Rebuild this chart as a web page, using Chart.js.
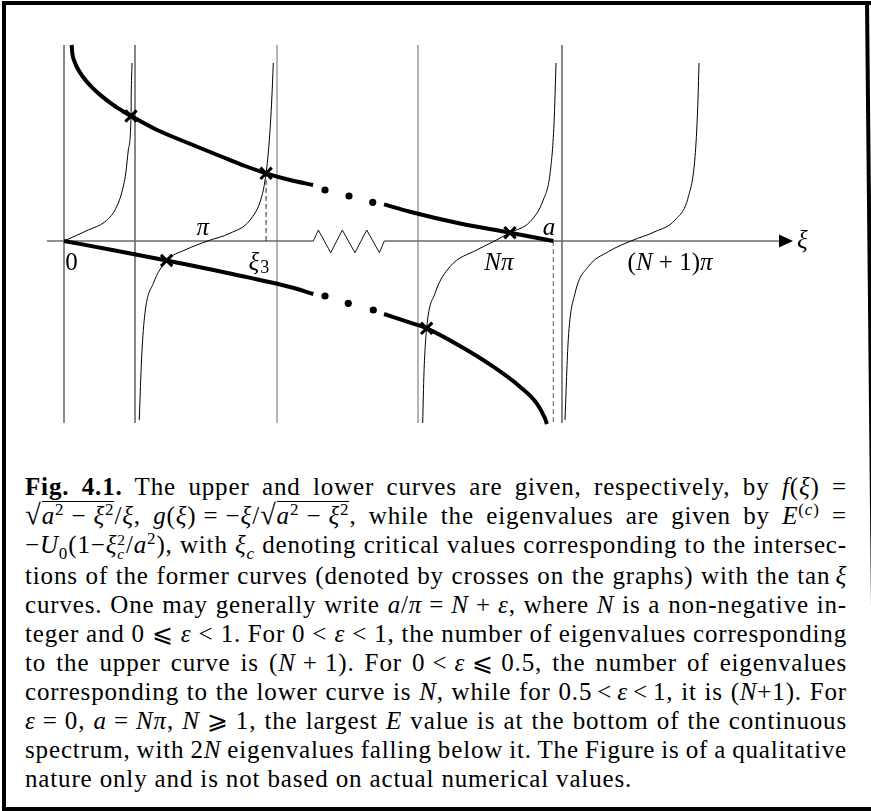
<!DOCTYPE html>
<html>
<head>
<meta charset="utf-8">
<script src="https://cdn.jsdelivr.net/npm/chart.js@4/dist/chart.umd.min.js"></script>
<style>
html, body { margin: 0; padding: 0; background: #fff; }
#page { position: relative; width: 871px; height: 811px; overflow: hidden; }
#plot { position: absolute; left: 0; top: 0; }
#frame { position: absolute; left: 2px; top: 1px; width: 880px; height: 810px; border: 4px solid #000; border-right: none; box-sizing: border-box; }
#frameRight { position: absolute; left: 860px; top: 0; width: 20px; height: 811px; background: #000;
  clip-path: polygon(5px 1px, 9px 1px, 17px 811px, 13px 811px); }
#caption { position: absolute; left: 25px; top: 472px; width: 822px; font-family: "Liberation Serif", serif; font-size: 25px; letter-spacing: 0.85px; line-height: 29px; color: #000; }
#caption .ln { display: block; white-space: nowrap; }
#caption .ln span.w { display: inline-block; }
sup, sub { font-size: 0.68em; line-height: 0; }
.rad { font-size: 1.15em; line-height: 0; }
.ov { border-top: 1px solid #000; padding-top: 0; }
.st { display: inline-block; vertical-align: middle; line-height: 0.9; font-size: 0.62em; text-align: left; }
.st span { display: block; }
</style>
</head>
<body>
<div id="page">
  <canvas id="plot" width="871" height="440"></canvas>
  <div id="caption">
    <div class="ln"><span class="w"><b>Fig. 4.1.</b> The upper and lower curves are given, respectively, by <i>f</i>(<i>ξ</i>) =</span></div>
    <div class="ln"><span class="w"><span class="rad">√</span><span class="ov"><i>a</i><sup>2</sup>&#8197;−&#8197;<i>ξ</i><sup>2</sup></span>/<i>ξ</i>, <i>g</i>(<i>ξ</i>)&#8197;=&#8197;−<i>ξ</i>/<span class="rad">√</span><span class="ov"><i>a</i><sup>2</sup>&#8197;−&#8197;<i>ξ</i><sup>2</sup></span>, while the eigenvalues are given by <i>E</i><sup>(<i>c</i>)</sup> =</span></div>
    <div class="ln"><span class="w">−<i>U</i><sub>0</sub>(1−<i>ξ</i><span class="st"><span>2</span><span><i>c</i></span></span>/<i>a</i><sup>2</sup>), with <i>ξ</i><sub><i>c</i></sub> denoting critical values corresponding to the intersec-</span></div>
    <div class="ln"><span class="w">tions of the former curves (denoted by crosses on the graphs) with the tan&#8198;<i>ξ</i></span></div>
    <div class="ln"><span class="w">curves. One may generally write <i>a</i>/<i>π</i>&#8197;=&#8197;<i>N</i>&#8197;+&#8197;<i>ε</i>, where <i>N</i> is a non-negative in-</span></div>
    <div class="ln"><span class="w">teger and 0&#8197;⩽&#8197;<i>ε</i>&#8197;&lt;&#8197;1. For 0&#8197;&lt;&#8197;<i>ε</i>&#8197;&lt;&#8197;1, the number of eigenvalues corresponding</span></div>
    <div class="ln"><span class="w">to the upper curve is (<i>N</i>&#8197;+&#8197;1). For 0&#8197;&lt;&#8197;<i>ε</i>&#8197;⩽&#8197;0.5, the number of eigenvalues</span></div>
    <div class="ln"><span class="w">corresponding to the lower curve is <i>N</i>, while for 0.5&#8198;&lt;&#8198;<i>ε</i>&#8198;&lt;&#8198;1, it is (<i>N</i>+1). For</span></div>
    <div class="ln"><span class="w"><i>ε</i>&#8197;=&#8197;0, <i>a</i>&#8197;=&#8197;<i>Nπ</i>, <i>N</i>&#8197;⩾&#8197;1, the largest <i>E</i> value is at the bottom of the continuous</span></div>
    <div class="ln"><span class="w">spectrum, with 2<i>N</i> eigenvalues falling below it. The Figure is of a qualitative</span></div>
    <div class="ln last"><span class="w">nature only and is not based on actual numerical values.</span></div>
  </div>
  <div id="frame"></div>
  <div id="frameRight"></div>
</div>
<script>
// x is xi in units of pi (the stretch between 3pi/2 and N pi - pi/2 is cut out),
// y is the function value in plot units.

// upper curve f(xi), before and after the break
const upperLeft = [[0.054, 8.167], [0.058, 7.842], [0.075, 7.467], [0.096, 7.188], [0.138, 6.8],
  [0.201, 6.379], [0.263, 6.046], [0.346, 5.671], [0.409, 5.429], [0.472, 5.208], [0.641, 4.667],
  [0.873, 4.083], [1.099, 3.542], [1.275, 3.125], [1.423, 2.821], [1.592, 2.542], [1.754, 2.333]];
const upperRight = [[2.254, 1.529], [2.437, 1.221], [2.789, 0.729], [3.141, 0.346], [3.446, 0]];

// lower curve g(xi)
const lowerLeft = [[0, 0], [0.359, -0.396], [0.723, -0.8125], [1.169, -1.354], [1.592, -1.917], [1.756, -2.208]];
const lowerRight = [[2.254, -3.042], [2.437, -3.404], [2.554, -3.638], [2.789, -4.375], [3.023, -5.238],
  [3.211, -6.071], [3.329, -6.763], [3.387, -7.388], [3.401, -7.625]];

// tan xi branches
const tan1 = [[0, 0], [0.171, 0.458], [0.289, 0.804], [0.359, 1.292], [0.406, 2.0], [0.435, 2.833],
  [0.453, 3.792], [0.472, 5.208], [0.474, 6.292], [0.479, 7.417]];
const tan2 = [[0.530, -7.458], [0.547, -4.821], [0.570, -3.013], [0.629, -1.763], [0.723, -0.8125],
  [0.852, -0.375], [1.016, 0.01], [1.169, 0.321], [1.310, 0.875], [1.392, 1.846], [1.423, 2.821],
  [1.446, 4.208], [1.463, 5.875], [1.474, 7.417]];
const tanN = [[2.526, -7.583], [2.535, -5.5], [2.554, -3.638], [2.613, -2.179], [2.718, -1.071],
  [2.906, -0.375], [3.023, -0.029], [3.141, 0.346], [3.282, 0.804], [3.375, 1.708], [3.423, 2.821],
  [3.451, 4.904], [3.465, 7.417]];
const tanN1 = [[3.528, -7.458], [3.551, -4.125], [3.599, -2.179], [3.692, -1.071], [3.833, -0.446],
  [3.998, 0.0125], [4.162, 0.388], [4.303, 0.875], [4.397, 1.846], [4.444, 3.513], [4.463, 5.596],
  [4.472, 7.417]];

// crossings (eigenvalues) and the elision dots
const crossX = [0.472, 1.423, 3.141, 0.723, 2.554];
const crossY = [5.208, 2.821, 0.346, -0.8125, -3.638];
const dotsUpper = [[1.838, 2.125], [2.007, 1.875], [2.174, 1.613]];
const dotsLower = [[1.838, -2.292], [2.002, -2.596], [2.178, -2.875]];

// asymptote lines and the markers xi_3 and a
const asymptoteX = [0, 0.5, 1.5, 2.493, 3.507];
const lineTop = 8.167, lineBottom = -7.583;
const xi3 = [1.423, 2.821];
const aMark = 3.446;

// xi axis with the zigzag break
const axisLeft = [[-0.12, 0], [1.756, 0]];
const zigzag = [[1.756, 0], [1.791, 0.458], [1.878, -0.488], [1.960, 0.458], [2.049, -0.488],
  [2.132, 0.458], [2.221, -0.488], [2.256, 0]];
const axisRight = [[2.256, 0], [5.035, 0]];
const axisTip = 5.134;

// tick labels: runs of [text, italic]
const tickLabels = [
  { x: 0.053, y: -0.917, runs: [['0', false]] },
  { x: 0.977, y: 0.542, runs: [['π', true]] },
  { x: 1.373, y: -0.917, runs: [['ξ', true]], sub: '3' },
  { x: 3.063, y: -0.917, runs: [['N', true], ['π', true]] },
  { x: 3.415, y: 0.542, runs: [['a', true]] },
  { x: 4.268, y: -0.917, runs: [['(', false], ['N', true], [' + 1)', false], ['π', true]] },
  { x: 5.197, y: 0, runs: [['ξ', true]], left: true }
];

const xy = a => a.map(p => ({ x: p[0], y: p[1] }));

function curve(pts, width, color) {
  return { data: xy(pts), showLine: true, borderColor: color, borderWidth: width,
    pointRadius: 0, cubicInterpolationMode: 'monotone', fill: false };
}
function straight(pts, width, color, dash) {
  return { data: xy(pts), showLine: true, borderColor: color, borderWidth: width,
    borderDash: dash || [], pointRadius: 0, tension: 0, fill: false };
}

const datasets = [];
// crosses on top
datasets.push({ data: crossX.map((x, i) => ({ x: x, y: crossY[i] })), showLine: false,
  pointStyle: 'crossRot', pointRadius: 8, borderWidth: 3, borderColor: '#000', backgroundColor: '#000' });
datasets.push({ data: xy(dotsUpper.concat(dotsLower)), showLine: false, pointStyle: 'circle',
  pointRadius: 3.6, borderWidth: 0, backgroundColor: '#000' });
datasets.push(curve(upperLeft, 4, '#000'));
datasets.push(curve(upperRight, 4, '#000'));
datasets.push(curve(lowerLeft, 4, '#000'));
datasets.push(curve(lowerRight, 4, '#000'));
[tan1, tan2, tanN, tanN1].forEach(b => datasets.push(curve(b, 1, '#000')));
datasets.push(straight([[xi3[0], 0], [xi3[0], xi3[1]]], 1, '#222', [5, 3]));
datasets.push(straight([[aMark, 0], [aMark, lineBottom]], 1.2, '#777', [5, 3]));
datasets.push(straight(zigzag, 1, '#111'));
datasets.push(straight(axisLeft, 1.5, '#6a6a6a'));
datasets.push(straight(axisRight, 1.5, '#6a6a6a'));
asymptoteX.forEach((x, i) => {
  const c = (i === 2 || i === 3) ? '#6a6a6a' : '#111';
  datasets.push(straight([[x, lineBottom], [x, lineTop]], 1, c));
});

const labelPlugin = {
  id: 'labels',
  afterDatasetsDraw(chart) {
    const ctx = chart.ctx, xs = chart.scales.x, ys = chart.scales.y;
    ctx.save();
    // arrow head at the end of the axis
    const bx = xs.getPixelForValue(axisRight[1][0]), tx = xs.getPixelForValue(axisTip);
    const ay = ys.getPixelForValue(0);
    ctx.fillStyle = '#000';
    ctx.beginPath();
    ctx.moveTo(tx, ay);
    ctx.lineTo(bx, ay - 6.5);
    ctx.lineTo(bx, ay + 6.5);
    ctx.closePath();
    ctx.fill();

    ctx.textBaseline = 'middle';
    const size = 25;
    tickLabels.forEach(l => {
      let w = 0;
      l.runs.forEach(r => {
        ctx.font = (r[1] ? 'italic ' : '') + size + 'px "Liberation Serif"';
        w += ctx.measureText(r[0]).width;
      });
      let subW = 0;
      if (l.sub) {
        ctx.font = Math.round(size * 0.7) + 'px "Liberation Serif"';
        subW = ctx.measureText(l.sub).width + 1;
      }
      const cx = xs.getPixelForValue(l.x), cy = ys.getPixelForValue(l.y);
      let x = l.left ? cx - 5 : cx - (w + subW) / 2;
      ctx.textAlign = 'left';
      l.runs.forEach(r => {
        ctx.font = (r[1] ? 'italic ' : '') + size + 'px "Liberation Serif"';
        ctx.fillText(r[0], x, cy);
        x += ctx.measureText(r[0]).width;
      });
      if (l.sub) {
        ctx.font = Math.round(size * 0.7) + 'px "Liberation Serif"';
        ctx.fillText(l.sub, x + 1, cy + 5);
      }
    });
    ctx.restore();
  }
};

new Chart(document.getElementById('plot'), {
  type: 'scatter',
  data: { datasets: datasets },
  options: {
    responsive: false,
    animation: false,
    devicePixelRatio: 1,
    layout: { padding: 0, autoPadding: false },
    plugins: { legend: { display: false }, tooltip: { enabled: false } },
    scales: {
      x: { type: 'linear', min: -64 / 142, max: (871 - 64) / 142, display: false },
      y: { type: 'linear', min: -(440 - 241) / 24, max: 241 / 24, display: false }
    }
  },
  plugins: [labelPlugin]
});

// stretch the inter-word spaces so each caption line fills the column
const colWidth = 822;
document.querySelectorAll('#caption .ln').forEach(ln => {
  if (ln.classList.contains('last')) return;
  const w = ln.firstElementChild;
  const gaps = (w.textContent.match(/ /g) || []).length;
  const natural = w.getBoundingClientRect().width;
  if (gaps) w.style.wordSpacing = ((colWidth - natural) / gaps) + 'px';
});
</script>
</body>
</html>
